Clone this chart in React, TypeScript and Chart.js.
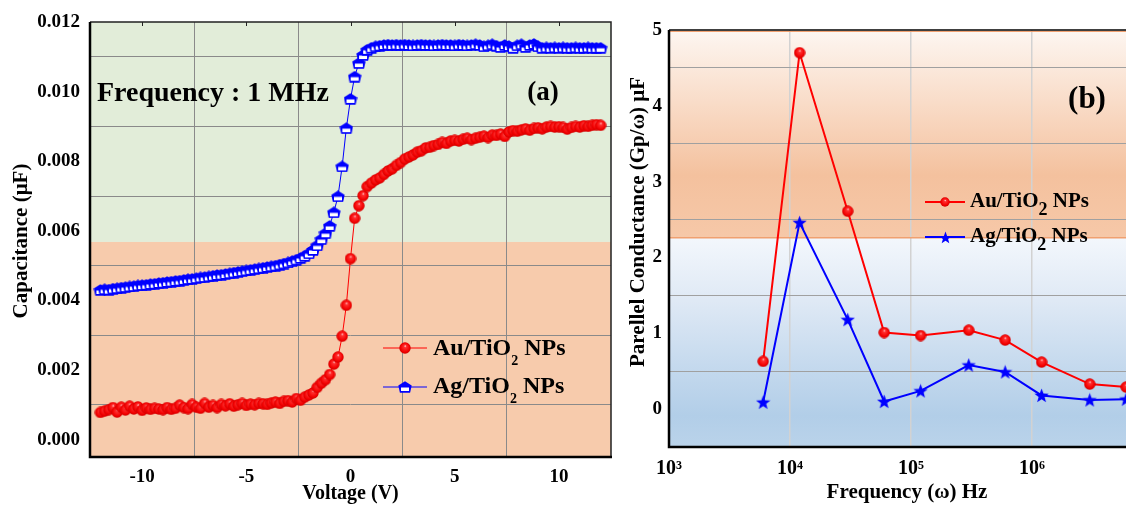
import React, { useEffect, useRef } from "react";
import { Chart, registerables } from "chart.js";
Chart.register(...registerables);

const SERIF = '"Liberation Serif", "Times New Roman", Times, serif';

// ---------- Panel (a) data ----------
const voltage = [
  -12.0, -11.8, -11.6, -11.4, -11.2, -11.0, -10.8, -10.6, -10.4, -10.2,
  -10.0, -9.8, -9.6, -9.4, -9.2, -9.0, -8.8, -8.6, -8.4, -8.2,
  -8.0, -7.8, -7.6, -7.4, -7.2, -7.0, -6.8, -6.6, -6.4, -6.2,
  -6.0, -5.8, -5.6, -5.4, -5.2, -5.0, -4.8, -4.6, -4.4, -4.2,
  -4.0, -3.8, -3.6, -3.4, -3.2, -3.0, -2.8, -2.6, -2.4, -2.2,
  -2.0, -1.8, -1.6, -1.4, -1.2, -1.0, -0.8, -0.6, -0.4, -0.2,
  0.0, 0.2, 0.4, 0.6, 0.8, 1.0, 1.2, 1.4, 1.6, 1.8,
  2.0, 2.2, 2.4, 2.6, 2.8, 3.0, 3.2, 3.4, 3.6, 3.8,
  4.0, 4.2, 4.4, 4.6, 4.8, 5.0, 5.2, 5.4, 5.6, 5.8,
  6.0, 6.2, 6.4, 6.6, 6.8, 7.0, 7.2, 7.4, 7.6, 7.8,
  8.0, 8.2, 8.4, 8.6, 8.8, 9.0, 9.2, 9.4, 9.6, 9.8,
  10.0, 10.2, 10.4, 10.6, 10.8, 11.0, 11.2, 11.4, 11.6, 11.8,
  12.0,
];

const capAu = [
  0.00078, 0.00082, 0.00086, 0.00092, 0.00079, 0.00093, 0.00085, 0.00096, 0.00088, 0.00094,
  0.00084, 0.00091, 0.00087, 0.0009, 0.00088, 0.00086, 0.00092, 0.00087, 0.0009, 0.00099,
  0.00092, 0.00089, 0.00101, 0.00093, 0.0009, 0.00104, 0.00093, 0.00098, 0.00092, 0.00101,
  0.00097, 0.00103, 0.00096, 0.001, 0.00104, 0.00098, 0.00102, 0.001, 0.00104, 0.00103,
  0.00101, 0.00105, 0.00108, 0.00104, 0.0011, 0.00112, 0.00108, 0.00118, 0.00113, 0.00122,
  0.00128, 0.00134, 0.0015, 0.00162, 0.00172, 0.00187, 0.00217, 0.00237, 0.00297, 0.00386,
  0.0052, 0.00636, 0.00672, 0.00701, 0.00727, 0.00737, 0.00746, 0.00752, 0.00762, 0.00772,
  0.00778, 0.00788, 0.00796, 0.00806, 0.00812, 0.00818, 0.00826, 0.0083, 0.00838, 0.0084,
  0.00845, 0.00848, 0.00854, 0.00851, 0.00858, 0.0086, 0.00858, 0.00863, 0.00866, 0.00862,
  0.00866, 0.00869, 0.00872, 0.00868, 0.00875, 0.00874, 0.00878, 0.00871, 0.00884, 0.00888,
  0.00886, 0.0089, 0.00893, 0.00889, 0.00894, 0.00896, 0.00893, 0.00898, 0.009, 0.00898,
  0.00899, 0.00897, 0.00892, 0.00897, 0.009, 0.00898, 0.00902, 0.009, 0.00903, 0.00905,
  0.00903,
];

const capAg = [
  0.0043, 0.00432, 0.00431, 0.00434, 0.00435, 0.00437, 0.00438, 0.0044, 0.00441, 0.00443,
  0.00444, 0.00445, 0.00447, 0.00448, 0.0045, 0.00451, 0.00453, 0.00454, 0.00456, 0.00457,
  0.00459, 0.00461, 0.00462, 0.00464, 0.00466, 0.00467, 0.00469, 0.00471, 0.00473, 0.00474,
  0.00476, 0.00478, 0.0048, 0.00482, 0.00484, 0.00486, 0.00488, 0.0049, 0.00492, 0.00494,
  0.00496, 0.00498, 0.005, 0.00503, 0.00506, 0.00509, 0.00513, 0.00517, 0.00522, 0.00528,
  0.00535, 0.00545, 0.00558, 0.00576, 0.00593, 0.00614, 0.00653, 0.00699, 0.00785, 0.00895,
  0.00979, 0.01043, 0.01082, 0.01105, 0.0112, 0.01126, 0.0113, 0.01132, 0.01134, 0.01135,
  0.01134, 0.01135, 0.01134, 0.01135, 0.01134, 0.01133, 0.01134, 0.01135, 0.01134, 0.01134,
  0.01133, 0.01134, 0.01135, 0.01134, 0.01134, 0.01133, 0.01135, 0.01134, 0.01133, 0.01134,
  0.01136, 0.01134, 0.0113, 0.01133, 0.01136, 0.01132, 0.01128, 0.01134, 0.01131, 0.01126,
  0.01133, 0.01136, 0.01128, 0.01134, 0.01137, 0.0113, 0.01126, 0.01127, 0.01126, 0.01127,
  0.01126, 0.01127, 0.01126, 0.01126, 0.01127, 0.01126, 0.01126, 0.01127, 0.01126, 0.01126,
  0.01126,
];

const xTicksA = [-12.5, -10, -7.5, -5, -2.5, 0, 2.5, 5, 7.5, 10, 12.5];
const xLabelsA = ["", "-10", "", "-5", "", "0", "", "5", "", "10", ""];
const yTicksA = [0, 0.001, 0.002, 0.003, 0.004, 0.005, 0.006, 0.007, 0.008, 0.009, 0.01, 0.011, 0.012];
const yLabelsA = ["0.000", "", "0.002", "", "0.004", "", "0.006", "", "0.008", "", "0.010", "", "0.012"];
const bandA = 0.00568;

// ---------- Panel (b) data ----------
const freq = [6000, 12000, 30000, 60000, 120000, 300000, 600000, 1200000, 3000000, 6000000];
const condAu = [0.63, 4.7, 2.61, 1.01, 0.97, 1.04, 0.91, 0.62, 0.33, 0.29];
const condAg = [0.09, 2.46, 1.18, 0.1, 0.24, 0.58, 0.49, 0.18, 0.12, 0.13];
const xTicksB = [1e3, 1e4, 1e5, 1e6, 1e7];
const xLabelsB = ["10³", "10⁴", "10⁵", "10⁶", "10⁷"];
const yTicksB = [-0.5, 0, 0.5, 1, 1.5, 2, 2.5, 3, 3.5, 4, 4.5, 5];
const yLabelsB = ["", "0", "", "1", "", "2", "", "3", "", "4", "", "5"];
const bandB = 2.26;

const legendAu = ["Au/TiO", "2", " NPs"];
const legendAg = ["Ag/TiO", "2", " NPs"];

function makeSphere(d: number): HTMLCanvasElement {
  const c = document.createElement("canvas");
  c.width = d;
  c.height = d;
  const g = c.getContext("2d")!;
  const r = d / 2;
  const grad = g.createRadialGradient(r * 1.05, r * 0.65, 0, r, r, r);
  grad.addColorStop(0, "#ffe0e0");
  grad.addColorStop(0.22, "#ff3030");
  grad.addColorStop(0.75, "#f20000");
  grad.addColorStop(1, "#c80000");
  g.fillStyle = grad;
  g.beginPath();
  g.arc(r, r, r - 0.3, 0, Math.PI * 2);
  g.fill();
  return c;
}

function makePentagon(): HTMLCanvasElement {
  const c = document.createElement("canvas");
  c.width = 14;
  c.height = 12;
  const g = c.getContext("2d")!;
  g.fillStyle = "#0000ff";
  g.beginPath();
  g.moveTo(7, 0.3);
  g.lineTo(13.7, 4.6);
  g.lineTo(12.1, 11.7);
  g.lineTo(1.9, 11.7);
  g.lineTo(0.3, 4.6);
  g.closePath();
  g.fill();
  g.fillStyle = "#ffffff";
  g.fillRect(3, 6.5, 8, 3.5);
  return c;
}

function makeStar(d: number): HTMLCanvasElement {
  const c = document.createElement("canvas");
  c.width = d;
  c.height = d;
  const g = c.getContext("2d")!;
  const R = d / 2;
  const r = R * 0.42;
  g.fillStyle = "#0000ff";
  g.beginPath();
  for (let i = 0; i < 10; i++) {
    const rad = i % 2 === 0 ? R : r;
    const a = -Math.PI / 2 + (i * Math.PI) / 5;
    const x = R + rad * Math.cos(a);
    const y = R + 0.6 + rad * Math.sin(a);
    if (i === 0) g.moveTo(x, y);
    else g.lineTo(x, y);
  }
  g.closePath();
  g.fill();
  return c;
}

function drawSubLabel(
  ctx: CanvasRenderingContext2D,
  x: number,
  y: number,
  parts: string[],
  size: number,
  subSize: number,
  subDy: number
) {
  ctx.textBaseline = "middle";
  ctx.textAlign = "left";
  ctx.font = `bold ${size}px ${SERIF}`;
  ctx.fillText(parts[0], x, y);
  let w = ctx.measureText(parts[0]).width;
  ctx.font = `bold ${subSize}px ${SERIF}`;
  ctx.fillText(parts[1], x + w, y + subDy);
  w += ctx.measureText(parts[1]).width;
  ctx.font = `bold ${size}px ${SERIF}`;
  ctx.fillText(parts[2], x + w, y);
}

function legendLine(
  ctx: CanvasRenderingContext2D,
  x0: number,
  x1: number,
  y: number,
  color: string,
  lw: number,
  img: HTMLCanvasElement
) {
  ctx.strokeStyle = color;
  ctx.lineWidth = lw;
  ctx.beginPath();
  ctx.moveTo(x0, y);
  ctx.lineTo(x1, y);
  ctx.stroke();
  const cx = (x0 + x1) / 2;
  ctx.drawImage(img, Math.round(cx - img.width / 2), Math.round(y - img.height / 2));
}

export default function App() {
  const refA = useRef<HTMLCanvasElement>(null);
  const refB = useRef<HTMLCanvasElement>(null);

  useEffect(() => {
    const sphereA = makeSphere(12);
    const pent = makePentagon();
    const sphereB = makeSphere(12);
    const sphereLeg = makeSphere(10);
    const star = makeStar(15);
    const starLeg = makeStar(13);

    const tickFont = { family: SERIF, size: 19, weight: "bold" as const };

    // ----- Chart (a) -----
    const bgA = {
      id: "bgA",
      beforeDraw(chart: any) {
        const { ctx, chartArea } = chart;
        const { left, right, top, bottom } = chartArea;
        const yb = chart.scales.y.getPixelForValue(bandA);
        ctx.save();
        ctx.fillStyle = "#e2edd9";
        ctx.fillRect(left, top, right - left, yb - top);
        ctx.fillStyle = "#f7cbac";
        ctx.fillRect(left, yb, right - left, bottom - yb);
        ctx.restore();
      },
      afterDraw(chart: any) {
        const { ctx, chartArea } = chart;
        const { left, right, top, bottom } = chartArea;
        const xs = chart.scales.x;
        ctx.save();
        ctx.strokeStyle = "#222";
        ctx.lineWidth = 1.5;
        ctx.beginPath();
        ctx.moveTo(left, top);
        ctx.lineTo(right, top);
        ctx.lineTo(right, bottom);
        ctx.stroke();
        ctx.lineWidth = 1;
        xTicksA.forEach((v, i) => {
          if (!xLabelsA[i]) return;
          const px = Math.round(xs.getPixelForValue(v)) + 0.5;
          ctx.beginPath();
          ctx.moveTo(px, top);
          ctx.lineTo(px, top + 4);
          ctx.stroke();
        });
        ctx.strokeStyle = "#000";
        ctx.lineWidth = 2.5;
        ctx.beginPath();
        ctx.moveTo(left, top);
        ctx.lineTo(left, bottom);
        ctx.lineTo(right + 1, bottom);
        ctx.stroke();

        ctx.fillStyle = "#000";
        ctx.textAlign = "center";
        ctx.textBaseline = "middle";
        ctx.font = `bold 20px ${SERIF}`;
        ctx.fillText("Voltage (V)", (left + right) / 2, 494);
        ctx.save();
        ctx.translate(22, 241);
        ctx.rotate(-Math.PI / 2);
        ctx.font = `bold 21px ${SERIF}`;
        ctx.fillText("Capacitance (μF)", 0, 0);
        ctx.restore();
        ctx.textAlign = "left";
        ctx.font = `bold 28px ${SERIF}`;
        ctx.fillText("Frequency : 1 MHz", 97, 94);
        ctx.textAlign = "center";
        ctx.font = `bold 27px ${SERIF}`;
        ctx.fillText("(a)", 543, 93);
        legendLine(ctx, 383, 427, 348, "#ff0000", 1, sphereA);
        legendLine(ctx, 383, 427, 387, "#0000ff", 1, pent);
        ctx.fillStyle = "#000";
        drawSubLabel(ctx, 433, 349, legendAu, 24, 14, 12);
        drawSubLabel(ctx, 433, 387, legendAg, 24, 14, 12);
        ctx.restore();
      },
    };

    const chartA = new Chart(refA.current!, {
      type: "scatter",
      data: {
        datasets: [
          {
            label: "Au/TiO2 NPs",
            data: voltage.map((v, i) => ({ x: v, y: capAu[i] })),
            showLine: true,
            borderColor: "#ff0000",
            backgroundColor: "#ff0000",
            borderWidth: 1,
            pointStyle: sphereA as any,
            pointRadius: 6,
          },
          {
            label: "Ag/TiO2 NPs",
            data: voltage.map((v, i) => ({ x: v, y: capAg[i] })),
            showLine: true,
            borderColor: "#0000ff",
            backgroundColor: "#0000ff",
            borderWidth: 1,
            pointStyle: pent as any,
            pointRadius: 6,
          },
        ],
      },
      options: {
        animation: false,
        responsive: false,
        maintainAspectRatio: false,
        layout: { padding: { top: 22, right: 9, left: 0, bottom: 0 } },
        plugins: { legend: { display: false }, tooltip: { enabled: false } },
        scales: {
          x: {
            type: "linear",
            min: -12.5,
            max: 12.5,
            afterBuildTicks: (s: any) => {
              s.ticks = xTicksA.map((v) => ({ value: v }));
            },
            afterFit: (s: any) => {
              s.height = 48;
            },
            ticks: {
              callback: (_v: any, i: number) => xLabelsA[i],
              font: tickFont,
              color: "#000",
              padding: 9,
              maxRotation: 0,
              autoSkip: false,
            },
            grid: {
              color: (c: any) => (c.index !== undefined && xLabelsA[c.index] === "" && c.index > 0 && c.index < xTicksA.length - 1 ? "#8a8a8a" : "rgba(0,0,0,0)"),
              lineWidth: 1,
              drawTicks: false,
            },
            border: { display: false },
          },
          y: {
            type: "linear",
            min: -0.0005,
            max: 0.012,
            afterBuildTicks: (s: any) => {
              s.ticks = yTicksA.map((v) => ({ value: v }));
            },
            afterFit: (s: any) => {
              s.width = 90;
            },
            ticks: {
              callback: (_v: any, i: number) => yLabelsA[i],
              font: tickFont,
              color: "#000",
              padding: 10,
              autoSkip: false,
            },
            grid: {
              color: (c: any) => (c.index !== undefined && yLabelsA[c.index] === "" ? "#8a8a8a" : "rgba(0,0,0,0)"),
              lineWidth: 1,
              drawTicks: false,
            },
            border: { display: false },
          },
        },
      } as any,
      plugins: [bgA],
    });

    // ----- Chart (b) -----
    const bgB = {
      id: "bgB",
      beforeDraw(chart: any) {
        const { ctx, chartArea } = chart;
        const { left, right, top, bottom } = chartArea;
        const yb = chart.scales.y.getPixelForValue(bandB);
        ctx.save();
        const g1 = ctx.createLinearGradient(0, top, 0, yb);
        g1.addColorStop(0, "#fdf6f1");
        g1.addColorStop(0.35, "#f9dcc8");
        g1.addColorStop(0.7, "#f4c19e");
        g1.addColorStop(1, "#f6c8a8");
        ctx.fillStyle = g1;
        ctx.fillRect(left, top, right - left, yb - top);
        const g2 = ctx.createLinearGradient(0, yb, 0, bottom);
        g2.addColorStop(0, "#f3f7fc");
        g2.addColorStop(0.3, "#dfe9f5");
        g2.addColorStop(0.6, "#c6daee");
        g2.addColorStop(0.85, "#b2cee8");
        g2.addColorStop(1, "#bad3ea");
        ctx.fillStyle = g2;
        ctx.fillRect(left, yb, right - left, bottom - yb);
        ctx.restore();
      },
      beforeDatasetsDraw(chart: any) {
        const { ctx, chartArea } = chart;
        const { left, right } = chartArea;
        const yb = chart.scales.y.getPixelForValue(bandB);
        ctx.save();
        ctx.strokeStyle = "#f0a070";
        ctx.lineWidth = 1.5;
        ctx.beginPath();
        ctx.moveTo(left, yb);
        ctx.lineTo(right, yb);
        ctx.stroke();
        ctx.restore();
      },
      afterDraw(chart: any) {
        const { ctx, chartArea } = chart;
        const { left, right, top, bottom } = chartArea;
        ctx.save();
        ctx.strokeStyle = "#f0a070";
        ctx.lineWidth = 1;
        ctx.beginPath();
        ctx.moveTo(left, top + 1.5);
        ctx.lineTo(right, top + 1.5);
        ctx.stroke();
        ctx.strokeStyle = "#000";
        ctx.lineWidth = 1.5;
        ctx.beginPath();
        ctx.moveTo(left, top);
        ctx.lineTo(right, top);
        ctx.stroke();
        ctx.lineWidth = 2.5;
        ctx.beginPath();
        ctx.moveTo(left, top);
        ctx.lineTo(left, bottom);
        ctx.lineTo(right, bottom);
        ctx.stroke();

        ctx.fillStyle = "#000";
        ctx.textAlign = "center";
        ctx.textBaseline = "middle";
        ctx.font = `bold 21px ${SERIF}`;
        ctx.fillText("Frequency (ω) Hz", 907 - 620, 493);
        ctx.save();
        ctx.translate(639 - 620, 222);
        ctx.rotate(-Math.PI / 2);
        ctx.fillText("Parellel Conductance (Gp/ω) μF", 0, 0);
        ctx.restore();
        ctx.font = `bold 31px ${SERIF}`;
        ctx.fillText("(b)", 1087 - 620, 100);
        legendLine(ctx, 925 - 620, 965 - 620, 202, "#ff0000", 2, sphereLeg);
        legendLine(ctx, 925 - 620, 965 - 620, 237, "#0000ff", 2, starLeg);
        ctx.fillStyle = "#000";
        drawSubLabel(ctx, 970 - 620, 202, legendAu, 21, 18, 8);
        drawSubLabel(ctx, 970 - 620, 237, legendAg, 21, 18, 8);
        ctx.restore();
      },
    };

    const chartB = new Chart(refB.current!, {
      type: "scatter",
      data: {
        datasets: [
          {
            label: "Au/TiO2 NPs",
            data: freq.map((f, i) => ({ x: f, y: condAu[i] })),
            showLine: true,
            borderColor: "#ff0000",
            backgroundColor: "#ff0000",
            borderWidth: 2,
            pointStyle: sphereB as any,
            pointRadius: 6,
          },
          {
            label: "Ag/TiO2 NPs",
            data: freq.map((f, i) => ({ x: f, y: condAg[i] })),
            showLine: true,
            borderColor: "#0000ff",
            backgroundColor: "#0000ff",
            borderWidth: 2,
            pointStyle: star as any,
            pointRadius: 7,
          },
        ],
      },
      options: {
        animation: false,
        responsive: false,
        maintainAspectRatio: false,
        layout: { padding: { top: 30, right: 27, left: 0, bottom: 0 } },
        plugins: { legend: { display: false }, tooltip: { enabled: false } },
        scales: {
          x: {
            type: "logarithmic",
            min: 1e3,
            max: 1e7,
            afterBuildTicks: (s: any) => {
              s.ticks = xTicksB.map((v) => ({ value: v }));
            },
            afterFit: (s: any) => {
              s.height = 58;
            },
            ticks: {
              callback: (_v: any, i: number) => xLabelsB[i],
              font: { family: SERIF, size: 20, weight: "bold" as const },
              color: "#000",
              padding: 10,
              maxRotation: 0,
              autoSkip: false,
            },
            grid: {
              color: (c: any) => (c.index > 0 ? "#d2d2d2" : "rgba(0,0,0,0)"),
              lineWidth: 1.5,
              drawTicks: false,
            },
            border: { display: false },
          },
          y: {
            type: "linear",
            min: -0.5,
            max: 5,
            afterBuildTicks: (s: any) => {
              s.ticks = yTicksB.map((v) => ({ value: v }));
            },
            afterFit: (s: any) => {
              s.width = 49;
            },
            ticks: {
              callback: (_v: any, i: number) => yLabelsB[i],
              font: tickFont,
              color: "#000",
              padding: 7,
              autoSkip: false,
            },
            grid: {
              color: (c: any) => (c.index > 0 && yLabelsB[c.index] === "" ? "#a0a0a0" : "rgba(0,0,0,0)"),
              lineWidth: 1,
              drawTicks: false,
            },
            border: { display: false },
          },
        },
      } as any,
      plugins: [bgB],
    });

    return () => {
      chartA.destroy();
      chartB.destroy();
    };
  }, []);

  return (
    <div
      style={{
        position: "fixed",
        left: 0,
        top: 0,
        width: 1126,
        height: 505,
        overflow: "hidden",
        background: "#ffffff",
      }}
    >
      <canvas
        ref={refA}
        width={620}
        height={505}
        style={{ position: "absolute", left: 0, top: 0, width: 620, height: 505 }}
      />
      <canvas
        ref={refB}
        width={560}
        height={505}
        style={{ position: "absolute", left: 620, top: 0, width: 560, height: 505 }}
      />
    </div>
  );
}
